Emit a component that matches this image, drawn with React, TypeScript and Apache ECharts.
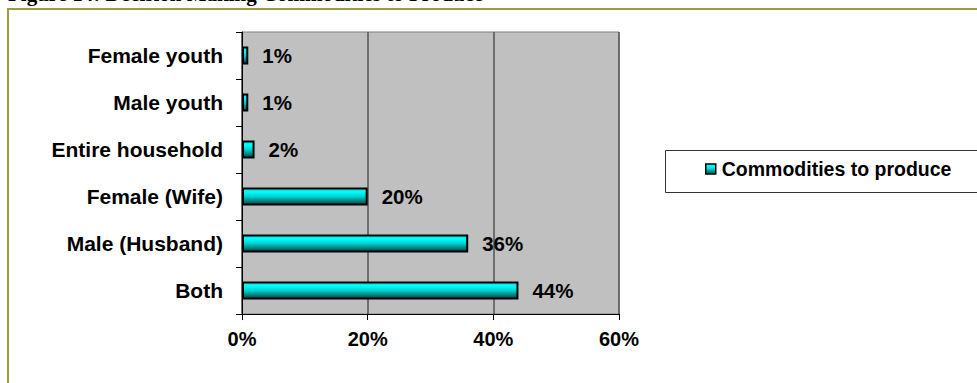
import React, { useEffect, useRef } from "react";
import * as echarts from "echarts";

const categories = ["Both", "Male (Husband)", "Female (Wife)", "Entire household", "Male youth", "Female youth"];
const values = [44, 36, 20, 2, 1, 1];
const seriesName = "Commodities to produce";
const titleText = "Figure 14: Decision Making Commodities to Produce";
const xTicks = [0, 20, 40, 60];

const FONT = "'Liberation Sans', Arial, sans-serif";

export default function App() {
  const ref = useRef<HTMLDivElement>(null);
  useEffect(() => {
    if (!ref.current) return;
    const chart = echarts.init(ref.current, undefined, { renderer: "svg" });
    const barGradient = new echarts.graphic.LinearGradient(0, 0, 0, 1, [
      { offset: 0, color: "#00e0e0" },
      { offset: 0.2, color: "#00ffff" },
      { offset: 0.5, color: "#00d0d0" },
      { offset: 1, color: "#004545" },
    ]);
    chart.setOption({
      animation: false,
      backgroundColor: "#ffffff",
      grid: { left: 242, right: 358, top: 32, bottom: 69, show: true, backgroundColor: "#c0c0c0", borderColor: "#808080", borderWidth: 1 },
      graphic: [
        {
          type: "rect",
          shape: { x: 8, y: 9, width: 1100, height: 500 },
          style: { fill: "none", stroke: "#9c9c3c", lineWidth: 2 },
          z: 0,
        },
        {
          type: "text",
          x: 8,
          y: -17,
          style: { text: titleText, font: "bold 21px 'Liberation Serif', 'Times New Roman', serif", fill: "#000", verticalAlign: "top" },
        },
        {
          type: "rect",
          shape: { x: 665.5, y: 150.5, width: 400, height: 42 },
          style: { fill: "#ffffff", stroke: "#333333", lineWidth: 1 },
          z: 1,
        },
      ],
      legend: {
        show: true,
        left: 705,
        top: 159,
        itemWidth: 10,
        itemHeight: 10,
        itemGap: 4,
        padding: 0,
        z: 5,
        textStyle: { fontFamily: FONT, fontWeight: "bold", fontSize: 19.5, color: "#000", padding: [0, 0, 0, 1] },
        data: [{ name: seriesName, icon: "rect", itemStyle: { borderColor: "#000", borderWidth: 1.5 } }],
      },
      xAxis: {
        type: "value",
        min: 0,
        max: 60,
        interval: 20,
        axisLine: { show: true, lineStyle: { color: "#000", width: 1 } },
        axisTick: { show: true, length: 6, lineStyle: { color: "#000" } },
        splitLine: { show: true, lineStyle: { color: "#555555", width: 1.5 } },
        axisLabel: {
          formatter: (v: number) => (xTicks.includes(v) ? v + "%" : ""),
          fontFamily: FONT,
          fontWeight: "bold",
          fontSize: 20,
          color: "#000",
          margin: 15,
        },
      },
      yAxis: {
        type: "category",
        data: categories,
        axisLine: { show: true, lineStyle: { color: "#000", width: 1 } },
        axisTick: { show: true, length: 6, lineStyle: { color: "#000" } },
        axisLabel: { fontFamily: FONT, fontWeight: "bold", fontSize: 21, color: "#000", margin: 19 },
      },
      series: [
        {
          name: seriesName,
          type: "bar",
          data: values,
          barWidth: 18,
          itemStyle: { color: barGradient, borderColor: "#000", borderWidth: 2 },
          label: {
            show: true,
            position: "right",
            distance: 14,
            formatter: (p: any) => p.value + "%",
            fontFamily: FONT,
            fontWeight: "bold",
            fontSize: 20.5,
            color: "#000",
          },
        },
      ],
    });
    return () => chart.dispose();
  }, []);
  return <div ref={ref} style={{ position: "absolute", left: 0, top: 0, width: 977, height: 383 }} />;
}
